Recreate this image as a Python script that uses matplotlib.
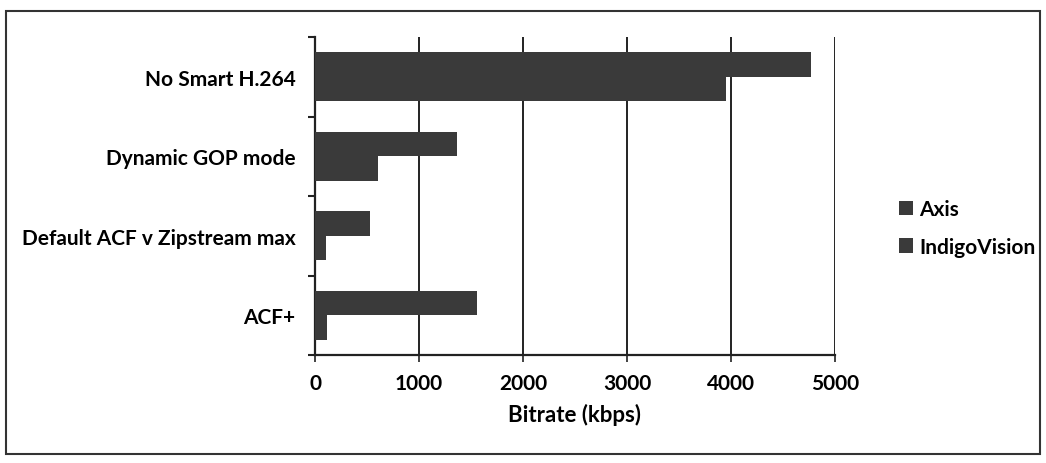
import matplotlib
matplotlib.use("Agg")
import matplotlib.pyplot as plt
from matplotlib.patches import Rectangle
from matplotlib.ticker import FixedLocator
import numpy as np

categories = ["No Smart H.264", "Dynamic GOP mode", "Default ACF v Zipstream max", "ACF+"]
axis_vals = [4770, 1370, 530, 1560]
indigo_vals = [3950, 610, 105, 120]
series_names = ["Axis", "IndigoVision"]
xticks = [0, 1000, 2000, 3000, 4000, 5000]

plt.rcParams['font.family'] = ['Lato', 'DejaVu Sans']
FS = 15

fig = plt.figure(figsize=(10.46, 4.64), dpi=100)
ax = fig.add_axes([315/1046, 1-356/464, 520/1046, 318/464])

n = len(categories)
ypos = np.arange(n)[::-1]
h = 0.31
bar_color = "#3a3a3a"
b1 = ax.barh(ypos + h/2, axis_vals, height=h, color=bar_color, label=series_names[0], zorder=3)
b2 = ax.barh(ypos - h/2, indigo_vals, height=h, color=bar_color, label=series_names[1], zorder=3)

ax.set_xlim(0, 5000)
ax.set_ylim(-0.5, n - 0.5)
ax.set_xticks(xticks)
ax.set_xticklabels([str(t) for t in xticks], fontsize=FS, fontweight='bold')
ax.set_yticks(ypos)
ax.set_yticklabels(categories, fontsize=FS, fontweight='bold')
ax.yaxis.set_minor_locator(FixedLocator(np.arange(-0.5, n, 1.0)))
ax.tick_params(axis='y', which='major', length=0, pad=14)
ax.tick_params(axis='y', which='minor', length=5, width=1.5, color='#222222')
ax.tick_params(axis='x', which='major', length=5, width=1.2, color='#222222', pad=8)

ax.grid(axis='x', color='#222222', linewidth=1.4, zorder=1)
ax.set_axisbelow(True)
for s in ['top', 'right']:
    ax.spines[s].set_visible(False)
for s in ['left', 'bottom']:
    ax.spines[s].set_color('#222222')
    ax.spines[s].set_linewidth(1.6)

ax.set_xlabel("Bitrate (kbps)", fontsize=16, fontweight='bold', labelpad=7)

leg = fig.legend(handles=[b1, b2], labels=series_names, loc='center left',
                 bbox_to_anchor=(880/1046, 1-229/464), frameon=False,
                 prop={'size': FS, 'weight': 'bold'}, handlelength=0.7, handleheight=0.7,
                 handletextpad=0.3, labelspacing=0.85)

fig.patches.append(Rectangle((6/1046, 1-455/464), 1034/1046, 443/464,
                             transform=fig.transFigure, fill=False,
                             edgecolor='#333333', linewidth=1.5))

fig.savefig("out.png", dpi=100)
